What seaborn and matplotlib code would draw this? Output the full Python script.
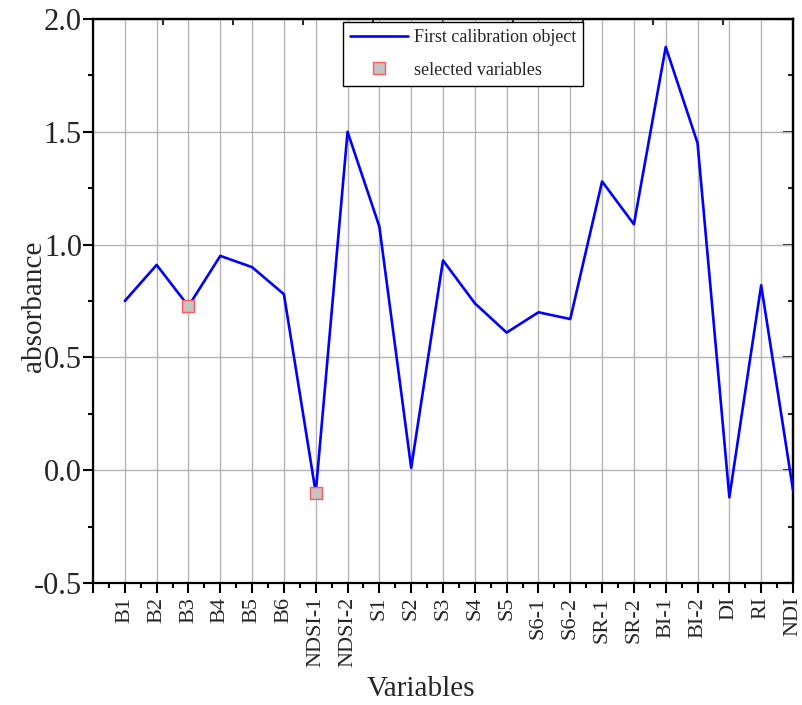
import matplotlib
matplotlib.use('Agg')
import matplotlib.pyplot as plt
import seaborn as sns
import pandas as pd
import numpy as np
from matplotlib.ticker import MultipleLocator, FixedLocator, NullFormatter
from matplotlib.lines import Line2D

categories = ["B1", "B2", "B3", "B4", "B5", "B6", "NDSI-1", "NDSI-2", "S1", "S2",
              "S3", "S4", "S5", "S6-1", "S6-2", "SR-1", "SR-2", "BI-1", "BI-2",
              "DI", "RI", "NDI"]
absorbance = [0.75, 0.91, 0.727, 0.95, 0.90, 0.78, -0.10, 1.50, 1.08, 0.01,
              0.93, 0.74, 0.61, 0.70, 0.67, 1.28, 1.09, 1.876, 1.45,
              -0.12, 0.82, -0.088]
selected = ["B3", "NDSI-1"]
line_label = "First calibration object"
marker_label = "selected variables"

sns.set_theme(style='ticks')
plt.rcParams['font.family'] = ['Liberation Serif', 'DejaVu Serif']
plt.rcParams['axes.unicode_minus'] = False

df = pd.DataFrame({'Variables': categories, 'absorbance': absorbance})
df['pos'] = np.arange(len(categories))
sel_df = df[df['Variables'].isin(selected)]

fig = plt.figure(figsize=(8.03, 7.05), dpi=100)
ax = fig.add_axes([93/803, 1-583/705, 700/803, 564/705])
ax.set_facecolor('white')

line_color = '#0000ff'
sns.lineplot(data=df, x='pos', y='absorbance', ax=ax, color=line_color, lw=1.9,
             sort=False, legend=False, zorder=3)
sns.scatterplot(data=sel_df, x='pos', y='absorbance', ax=ax, marker='s', s=70,
                color='#c3c3c3', edgecolor='#ff5a5a', linewidth=1, legend=False, zorder=4)

ax.set_xlim(-1, len(categories) - 1)
ax.set_ylim(-0.5, 2.0)

# x ticks
ax.xaxis.set_major_locator(FixedLocator(np.arange(-1, len(categories))))
ax.set_xticklabels([''] + categories)
ax.xaxis.set_minor_locator(FixedLocator(np.arange(-0.5, len(categories) - 1, 1.0)))
ax.tick_params(axis='x', which='major', direction='out', length=7, width=1.5,
               labelsize=16, labelrotation=90, pad=3, color='black')
ax.tick_params(axis='x', which='minor', direction='out', length=3.5, width=1.5, color='black')

# y ticks
ax.yaxis.set_major_locator(MultipleLocator(0.5))
ax.yaxis.set_minor_locator(MultipleLocator(0.25))
ax.yaxis.set_major_formatter(matplotlib.ticker.FormatStrFormatter('%.1f'))
ax.tick_params(axis='y', which='major', direction='out', length=7, width=1.5,
               labelsize=22, pad=1, color='black')
ax.tick_params(axis='y', which='minor', direction='out', length=3.5, width=1.5, color='black')

ax.grid(True, which='major', color='#b4b4b4', lw=1)
ax.set_axisbelow(True)

for sp in ax.spines.values():
    sp.set_visible(True)
    sp.set_linewidth(1.6)
    sp.set_color('black')

# right axis inward ticks
sec_r = ax.secondary_yaxis('right')
sec_r.yaxis.set_major_locator(MultipleLocator(0.5))
sec_r.yaxis.set_minor_locator(MultipleLocator(0.25))
sec_r.yaxis.set_major_formatter(NullFormatter())
sec_r.tick_params(which='major', direction='in', length=7, width=1.5)
sec_r.tick_params(which='minor', direction='in', length=3.5, width=1.5)
sec_r.spines['right'].set_linewidth(1.6)

# top axis inward ticks
sec_t = ax.secondary_xaxis('top')
sec_t.xaxis.set_major_locator(FixedLocator(np.linspace(-1, len(categories) - 1, 11)))
sec_t.xaxis.set_major_formatter(NullFormatter())
sec_t.tick_params(which='major', direction='in', length=4, width=1.5)
sec_t.tick_params(which='minor', length=0)
sec_t.spines['top'].set_linewidth(1.6)

ax.set_xlabel('Variables', fontsize=21)
ax.set_ylabel('absorbance', fontsize=21)
ax.xaxis.set_label_coords((421-93)/700, -0.165)
ax.yaxis.set_label_coords(-0.066, 0.49)

handles = [Line2D([], [], color=line_color, lw=1.9),
           Line2D([], [], ls='none', marker='s', ms=8.5, mfc='#c3c3c3',
                  mec='#ff5a5a', mew=1)]
leg = ax.legend(handles, [line_label, marker_label], loc='upper left',
                bbox_to_anchor=(343/803, 1-22/705), bbox_transform=fig.transFigure,
                frameon=True, fancybox=False, edgecolor='black', framealpha=1,
                fontsize=13, handlelength=3.2, handletextpad=0.35,
                labelspacing=0.88, borderpad=0.38, borderaxespad=0)
leg.get_frame().set_linewidth(1)

fig.savefig('out.png', dpi=100, facecolor='white')
